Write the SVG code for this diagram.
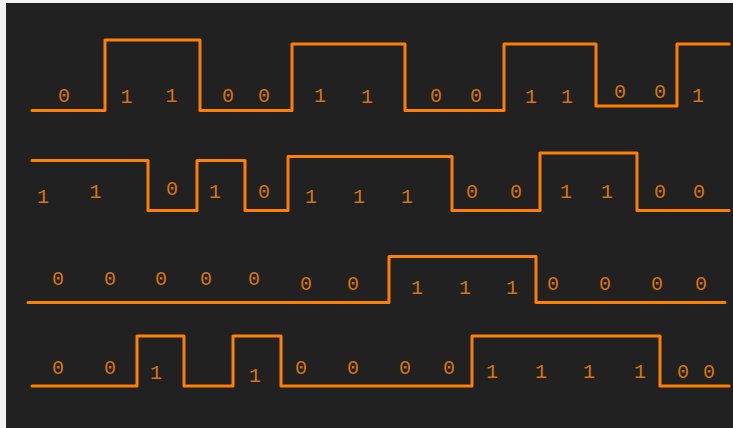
<svg xmlns="http://www.w3.org/2000/svg" width="733" height="428" viewBox="0 0 733 428">
<style>
.wave{fill:none;stroke:#ff7f00;stroke-width:3;stroke-linejoin:round;stroke-linecap:round}
.bit{fill:#d9740c;font-family:"Liberation Mono","DejaVu Sans Mono",monospace;font-size:20px;text-anchor:middle}
</style>
<rect x="0" y="0" width="733" height="428" fill="#f3f3f3"/>
<rect x="6" y="3" width="727" height="425" fill="#212121"/>
<g id="row1">
<path class="wave" d="M32,110.5 H105 V40 H200 V110.5 H292 V44 H405 V110.5 H504 V44 H596 V106 H677 V44 H729"/>
<g class="bit">
<text x="64" y="102">0</text><text x="126.5" y="103">1</text><text x="171.5" y="102">1</text>
<text x="228" y="102">0</text><text x="264" y="102">0</text><text x="320" y="102">1</text>
<text x="367" y="103">1</text><text x="436" y="102">0</text><text x="476" y="102">0</text>
<text x="531" y="103">1</text><text x="567" y="103">1</text><text x="620" y="98">0</text>
<text x="660" y="98">0</text><text x="698" y="102">1</text>
</g>
</g>
<g id="row2">
<path class="wave" d="M32,160.5 H148 V210.5 H197 V160.5 H245 V210.5 H288 V156.5 H452 V210.5 H540 V153 H637 V210.5 H729"/>
<g class="bit">
<text x="43" y="203">1</text><text x="95.5" y="198">1</text><text x="172" y="195">0</text>
<text x="215" y="198">1</text><text x="264" y="198">0</text><text x="311" y="203">1</text>
<text x="359" y="203">1</text><text x="407" y="203">1</text><text x="472" y="198">0</text>
<text x="516" y="198">0</text><text x="566" y="198">1</text><text x="607" y="198">1</text>
<text x="660" y="198">0</text><text x="699" y="198">0</text>
</g>
</g>
<g id="row3">
<path class="wave" d="M28,302.5 H389 V256.5 H536 V302.5 H725"/>
<g class="bit">
<text x="58" y="285">0</text><text x="110" y="285">0</text><text x="161" y="285">0</text>
<text x="206" y="285">0</text><text x="254" y="285">0</text><text x="306" y="290">0</text>
<text x="353" y="290">0</text><text x="417" y="294">1</text><text x="465" y="294">1</text>
<text x="512" y="294">1</text><text x="553" y="290">0</text><text x="605" y="290">0</text>
<text x="657" y="290">0</text><text x="701" y="290">0</text>
</g>
</g>
<g id="row4">
<path class="wave" d="M32,386 H137 V336 H184 V386 H233 V336 H281 V386 H472 V336 H660 V386 H729"/>
<g class="bit">
<text x="58" y="374">0</text><text x="110" y="374">0</text><text x="156" y="379">1</text>
<text x="255" y="382">1</text><text x="301" y="374">0</text><text x="353" y="374">0</text>
<text x="405" y="374">0</text><text x="449" y="374">0</text><text x="492" y="378">1</text>
<text x="541" y="378">1</text><text x="589" y="378">1</text><text x="640" y="378">1</text>
<text x="683" y="378">0</text><text x="709" y="378">0</text>
</g>
</g>
</svg>
